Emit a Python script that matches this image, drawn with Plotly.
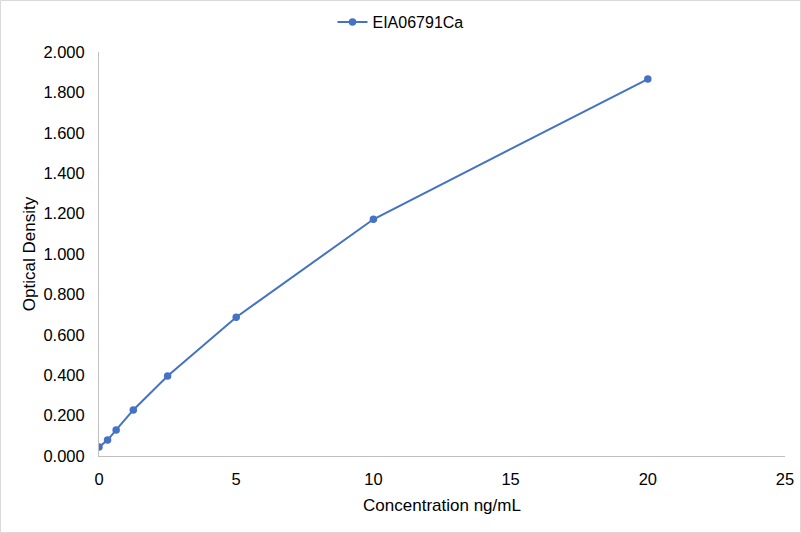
import plotly.graph_objects as go

conc = [0, 0.3125, 0.625, 1.25, 2.5, 5, 10, 20]
od = [0.045, 0.079, 0.129, 0.228, 0.396, 0.687, 1.172, 1.866]
series_name = "EIA06791Ca"
x_ticks = [0, 5, 10, 15, 20, 25]
y_ticks = [0, 0.2, 0.4, 0.6, 0.8, 1.0, 1.2, 1.4, 1.6, 1.8, 2.0]

color = "#4472C4"
font = "Liberation Sans, Arial, sans-serif"

fig = go.Figure()
fig.add_trace(go.Scatter(
    x=conc, y=od, mode="lines+markers", name=series_name,
    line=dict(color=color, width=2),
    marker=dict(color=color, size=7.5),
))

L, R, T, B = 99, 16, 52, 77
W, H = 801, 533
pw, ph = W - L - R, H - T - B

fig.update_layout(
    width=W, height=H,
    margin=dict(l=L, r=R, t=T, b=B, autoexpand=False),
    paper_bgcolor="white", plot_bgcolor="white",
    font=dict(family=font, size=16.5, color="#000000"),
    showlegend=True,
    legend=dict(orientation="h", xref="container", x=0.5, xanchor="center", yref="container",
                y=1 - 5 / H, yanchor="top",
                font=dict(size=16), bgcolor="rgba(0,0,0,0)"),
    xaxis=dict(range=[0, 25], tickvals=x_ticks, ticktext=[str(v) for v in x_ticks],
               showgrid=False, zeroline=False, showline=True, linecolor="#BFBFBF", linewidth=1,
               ticks="", ticklabelstandoff=8, automargin=False,
               title=dict(text="Concentration ng/mL", font=dict(size=17), standoff=12),
               tickfont=dict(size=16.5)),
    yaxis=dict(range=[0, 2.0], tickvals=y_ticks, ticktext=[f"{v:.3f}" for v in y_ticks],
               showgrid=False, zeroline=False, showline=True, linecolor="#BFBFBF", linewidth=1,
               ticks="", ticklabelstandoff=10, automargin=False,
               title=dict(text="Optical Density", font=dict(size=17), standoff=3),
               tickfont=dict(size=16.5)),
)

fig.add_shape(type="rect", xref="paper", yref="paper",
              x0=(0.5 - L) / pw, x1=(W - 0.5 - L) / pw,
              y0=(T + ph - (H - 0.5)) / ph, y1=(T + ph - 0.5) / ph,
              line=dict(color="#D9D9D9", width=1), fillcolor="rgba(0,0,0,0)", layer="below")

fig.write_html("out.html", config={"displayModeBar": False},
               post_script="document.body.style.margin='0';document.body.style.overflow='hidden';")
